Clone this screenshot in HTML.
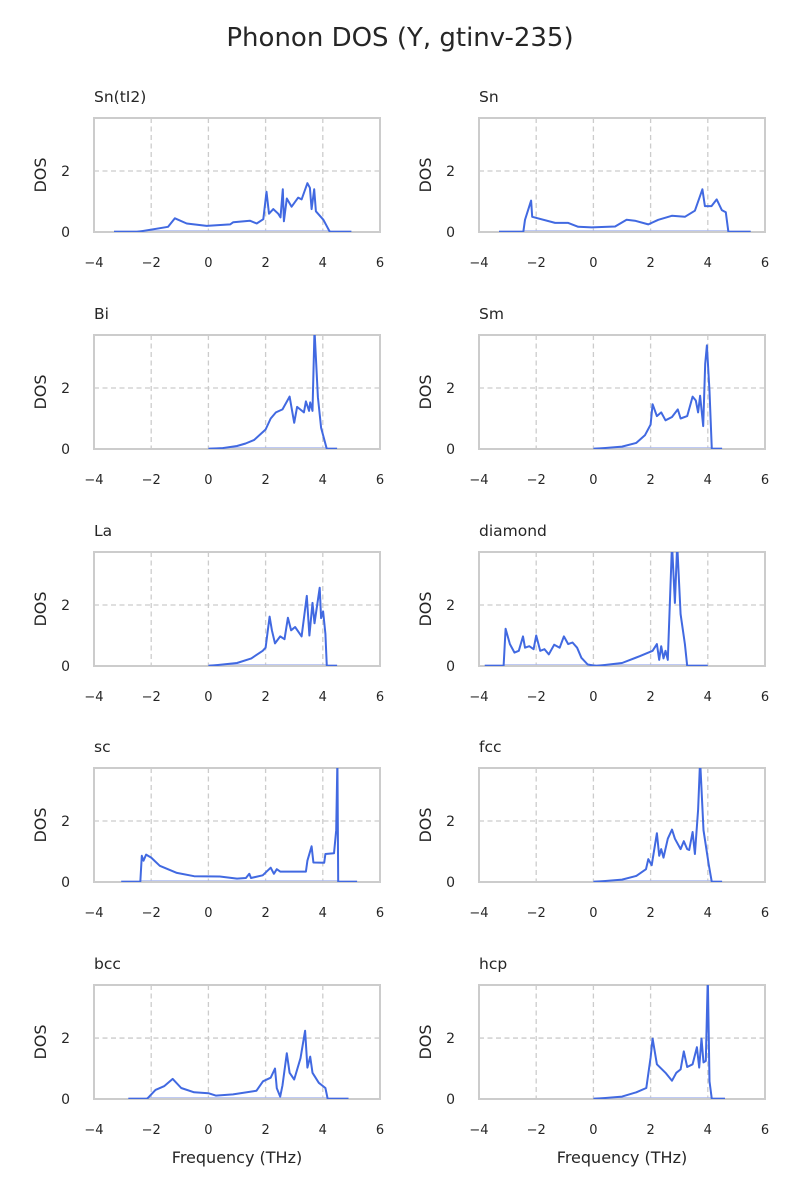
<!DOCTYPE html>
<html><head><meta charset="utf-8"><style>
body{margin:0;background:#fff;}
svg{display:block;font-family:"DejaVu Sans","Liberation Sans",sans-serif;}
</style></head><body>
<svg id="fig" width="800" height="1200" viewBox="0 0 800 1200">
<text x="400" y="46" text-anchor="middle" font-size="26" fill="#262626">Phonon DOS (Y, gtinv-235)</text>
</svg>
<script>
const panelNames = ["Sn(tI2)","Sn","Bi","Sm","La","diamond","sc","fcc","bcc","hcp"];
const freqSn_tI2 = [-3.3,-2.5,-1.41,-1.17,-0.76,-0.06,0.76,0.87,1.45,1.69,1.92,2.03,2.12,2.27,2.44,2.52,2.6,2.64,2.74,2.91,3.14,3.26,3.46,3.55,3.61,3.7,3.76,4.02,4.25,5.0];
const dosSn_tI2  = [0,0,0.17,0.45,0.28,0.2,0.25,0.32,0.37,0.28,0.42,1.32,0.6,0.75,0.6,0.48,1.4,0.35,1.1,0.83,1.13,1.07,1.6,1.45,0.75,1.4,0.68,0.4,0,0];
const freqSn = [-3.3,-2.45,-2.39,-2.18,-2.14,-1.34,-0.88,-0.53,-0.06,0.76,1.16,1.45,1.92,2.27,2.74,3.2,3.55,3.81,3.9,4.13,4.31,4.49,4.63,4.72,5.5];
const dosSn  = [0,0,0.4,1.03,0.5,0.3,0.3,0.17,0.15,0.18,0.4,0.37,0.25,0.4,0.53,0.5,0.7,1.4,0.85,0.85,1.07,0.72,0.65,0,0];
const freqBi = [0,0.5,1.0,1.3,1.6,2.0,2.18,2.36,2.59,2.84,3.0,3.1,3.34,3.41,3.52,3.56,3.64,3.71,3.83,3.94,4.14,4.5];
const dosBi  = [0,0.03,0.1,0.18,0.3,0.64,1.0,1.2,1.3,1.72,0.86,1.38,1.2,1.56,1.25,1.53,1.25,3.9,1.7,0.7,0,0];
const freqSm = [0,1.0,1.5,1.8,2.0,2.07,2.22,2.37,2.52,2.75,2.95,3.05,3.28,3.47,3.58,3.66,3.73,3.84,3.91,3.97,4.06,4.14,4.5];
const dosSm  = [0,0.08,0.2,0.45,0.8,1.47,1.08,1.2,0.94,1.05,1.3,1.0,1.08,1.72,1.59,1.2,1.75,0.75,2.8,3.4,1.9,0,0];
const freqLa = [0,1.0,1.5,1.9,2.0,2.14,2.22,2.33,2.51,2.66,2.78,2.89,3.03,3.26,3.44,3.53,3.64,3.71,3.89,3.94,4.01,4.09,4.14,4.5];
const dosLa  = [0,0.1,0.25,0.5,0.6,1.62,1.17,0.74,0.97,0.88,1.58,1.17,1.28,0.97,2.3,1.0,2.07,1.4,2.57,1.57,1.79,1.06,0,0];
const freqDiamond = [-3.8,-3.14,-3.07,-2.92,-2.76,-2.61,-2.46,-2.39,-2.24,-2.09,-2.0,-1.86,-1.71,-1.56,-1.37,-1.18,-1.03,-0.88,-0.73,-0.57,-0.42,-0.2,0.1,1.0,1.62,2.07,2.22,2.3,2.37,2.45,2.52,2.6,2.75,2.85,2.93,3.05,3.2,3.28,4.0];
const dosDiamond  = [0,0,1.22,0.72,0.44,0.5,0.97,0.6,0.65,0.55,1.0,0.5,0.55,0.38,0.7,0.6,0.97,0.72,0.77,0.6,0.27,0.05,0,0.1,0.32,0.5,0.72,0.2,0.65,0.25,0.5,0.2,4,2.07,4,1.7,0.72,0,0];
const freqSc = [-3.05,-2.38,-2.33,-2.27,-2.18,-2.0,-1.7,-1.1,-0.5,0.4,1.0,1.31,1.43,1.49,1.9,2.18,2.29,2.39,2.51,3.41,3.46,3.61,3.67,4.05,4.09,4.39,4.47,4.51,4.54,5.2];
const dosSc  = [0,0,0.86,0.7,0.9,0.8,0.53,0.3,0.19,0.18,0.11,0.13,0.27,0.13,0.22,0.47,0.27,0.42,0.34,0.34,0.7,1.17,0.64,0.63,0.92,0.94,1.7,4,0,0];
const freqFcc = [0,1.0,1.5,1.84,1.92,2.04,2.22,2.3,2.37,2.45,2.6,2.75,2.85,3.05,3.16,3.28,3.35,3.47,3.55,3.66,3.73,3.85,4.03,4.14,4.5];
const dosFcc  = [0,0.08,0.2,0.42,0.75,0.55,1.6,0.86,1.08,0.8,1.42,1.72,1.42,1.08,1.34,1.08,1.05,1.64,0.92,2.37,4,1.7,0.58,0,0];
const freqBcc = [-2.8,-2.15,-1.85,-1.55,-1.25,-0.95,-0.5,0,0.26,0.86,1.68,1.91,2.18,2.33,2.39,2.51,2.59,2.74,2.84,3.0,3.22,3.38,3.46,3.56,3.64,3.86,4.09,4.17,4.9];
const dosBcc  = [0,0,0.3,0.42,0.66,0.36,0.22,0.19,0.11,0.15,0.27,0.58,0.7,1.0,0.35,0.08,0.45,1.5,0.86,0.64,1.34,2.24,1.03,1.39,0.86,0.53,0.36,0,0];
const freqHcp = [0,1.0,1.5,1.85,2.0,2.07,2.22,2.52,2.75,2.9,3.05,3.16,3.28,3.47,3.62,3.7,3.78,3.85,3.93,4.0,4.06,4.14,4.6];
const dosHcp  = [0,0.08,0.22,0.36,1.36,1.98,1.14,0.86,0.6,0.86,0.97,1.56,1.05,1.14,1.7,1.03,1.98,1.2,1.25,4,0.58,0,0];
const xTicks = [-4,-2,0,2,4,6];
const yTicks = [0,2];

const freqs = [freqSn_tI2,freqSn,freqBi,freqSm,freqLa,freqDiamond,freqSc,freqFcc,freqBcc,freqHcp];
const doses = [dosSn_tI2,dosSn,dosBi,dosSm,dosLa,dosDiamond,dosSc,dosFcc,dosBcc,dosHcp];

const NS = "http://www.w3.org/2000/svg";
const svg = document.getElementById('fig');
const XMIN=-4, XMAX=6, YMIN=0, YMAX=3.74, W=286, H=114;
const lefts=[94,479], tops=[118,335,552,768,985];
function mk(tag, attrs, parent){const e=document.createElementNS(NS,tag);for(const k in attrs)e.setAttribute(k,attrs[k]);(parent||svg).appendChild(e);return e;}

panelNames.forEach((name,i)=>{
  const x0=lefts[i%2], y0=tops[Math.floor(i/2)];
  const sx=v=>x0+(v-XMIN)/(XMAX-XMIN)*W;
  const sy=v=>y0+H-(v-YMIN)/(YMAX-YMIN)*H;
  const g=mk('g',{});
  
  
  const clipId='clip'+i;
  const cp=mk('clipPath',{id:clipId},g);
  mk('rect',{x:x0,y:y0,width:W,height:H},cp);
  xTicks.forEach(t=>{ if(t>XMIN&&t<XMAX){const l=mk('line',{x1:sx(t),x2:sx(t),y1:y0,y2:y0+H,stroke:'#cccccc','stroke-width':1.3,'stroke-dasharray':'5,3.5'},g);
    
    }});
  yTicks.forEach(t=>{ if(t>YMIN){const l=mk('line',{x1:x0,x2:x0+W,y1:sy(t),y2:sy(t),stroke:'#cccccc','stroke-width':1.3,'stroke-dasharray':'5,3.5'},g);
    
    }});
  const f=freqs[i], d=doses[i];
  const fb=mk('line',{x1:sx(f[0]),x2:sx(f[f.length-1]),y1:sy(0)-1,y2:sy(0)-1,stroke:'#aab8f0','stroke-width':1.5},g);
  
  
  const fr=mk('rect',{x:x0,y:y0,width:W,height:H,fill:'none',stroke:'#cccccc','stroke-width':2},g);
  
  
  const pts=f.map((v,k)=>sx(v).toFixed(1)+','+sy(d[k]).toFixed(1)).join(' ');
  const pl=mk('polyline',{points:pts,fill:'none',stroke:'#4169e1','stroke-width':2,'stroke-linejoin':'round','clip-path':'url(#'+clipId+')'},g);
  
  
  const tt=mk('text',{x:x0,y:y0-16,'font-size':15.5,fill:'#262626'},g);
  tt.textContent=name;
  
  
  xTicks.forEach(t=>{const tx=mk('text',{x:sx(t),y:y0+H+35,'font-size':13,'text-anchor':'middle',fill:'#262626'},g);
    tx.textContent=(t<0?'\u2212'+(-t):''+t);
    
    });
  yTicks.forEach(t=>{const ty=mk('text',{x:x0-24,y:sy(t)+5,'font-size':14,'text-anchor':'end',fill:'#262626'},g);
    ty.textContent=''+t;
    
    });
  const yl=mk('text',{x:0,y:0,'font-size':16,'text-anchor':'middle',fill:'#262626',transform:'translate('+(x0-48)+','+(y0+H/2)+') rotate(-90)'},g);
  yl.textContent='DOS';
  
  
  if(i>=8){const xl=mk('text',{x:x0+W/2,y:y0+H+64,'font-size':16,'text-anchor':'middle',fill:'#262626'},g);
    xl.textContent='Frequency (THz)';
    
    }
});
</script>
</body></html>
